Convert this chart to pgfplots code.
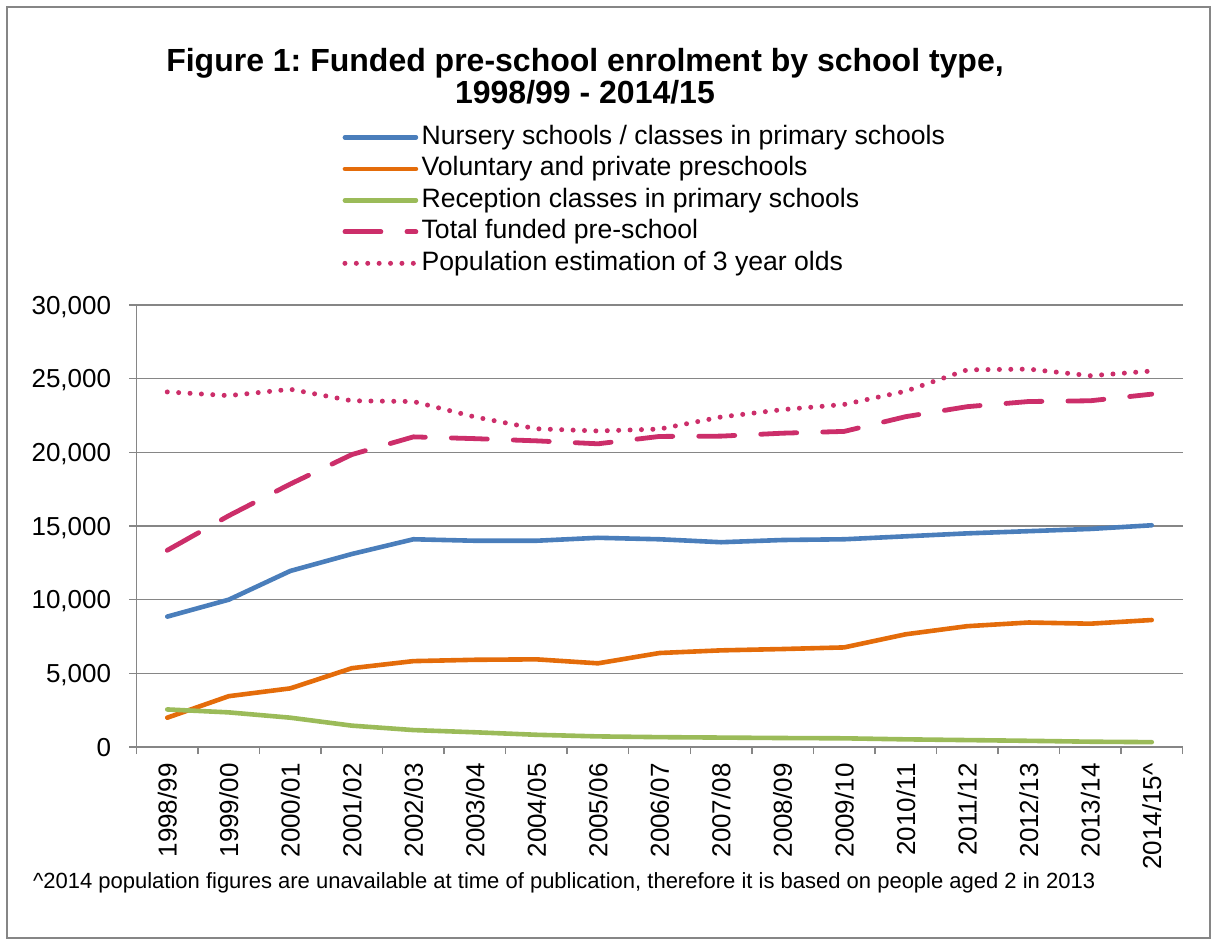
\documentclass[border=0pt]{standalone}
\usepackage{fontspec}
\setmainfont{Liberation Sans}
\usepackage{pgfplots}
\pgfplotsset{compat=1.18}
\frenchspacing

\definecolor{nursery}{RGB}{74,126,187}
\definecolor{voluntary}{RGB}{228,108,10}
\definecolor{reception}{RGB}{155,187,89}
\definecolor{total}{RGB}{204,46,106}
\definecolor{gridgray}{RGB}{134,134,134}

% index 0 = 1998/99 ... 16 = 2014/15
\pgfplotstableread{
x nursery voluntary reception total population
0  8850 1990 2550 13350 24100
1 10000 3450 2350 15700 23850
2 11950 3980 1990 17850 24280
3 13100 5350 1450 19850 23500
4 14100 5830 1150 21050 23450
5 14000 5920 1000 20930 22400
6 14000 5950  830 20780 21600
7 14200 5680  720 20580 21450
8 14100 6380  670 21080 21580
9 13900 6560  640 21100 22400
10 14050 6650 610 21300 22900
11 14100 6760 590 21420 23250
12 14300 7650 520 22420 24150
13 14500 8200 470 23100 25600
14 14650 8450 420 23450 25650
15 14800 8370 360 23500 25200
16 15050 8620 330 23950 25520
}\enrol

\begin{document}
\begin{tikzpicture}
\path[use as bounding box] (0,0) rectangle (606.5bp,-470.5bp);
\draw[gridgray, line width=1bp] (3.5bp,-3.5bp) rectangle (605bp,-469bp);

\node[anchor=base, font=\bfseries\fontsize{16bp}{18bp}\selectfont] at (292.5bp,-35.5bp)
  {Figure 1: Funded pre-school enrolment by school type,};
\node[anchor=base, font=\bfseries\fontsize{16bp}{18bp}\selectfont] at (292.5bp,-51.5bp)
  {1998/99 - 2014/15};

\begin{axis}[
    at={(68.25bp,-373.5bp)}, anchor=south west,
    width=523bp, height=221bp, scale only axis,
    xmin=-0.5, xmax=16.5, ymin=0, ymax=30000,
    axis x line*=bottom, axis y line*=left,
    axis line style={gridgray, line width=0.75bp},
    tick style={gridgray, line width=0.75bp},
    tick align=outside, major tick length=3.5bp,
    xtick={-0.5,0.5,...,16.5}, xticklabels={},
    extra x ticks={0,1,...,16},
    extra x tick labels={1998/99,1999/00,2000/01,2001/02,2002/03,2003/04,2004/05,2005/06,2006/07,2007/08,2008/09,2009/10,2010/11,2011/12,2012/13,2013/14,2014/15\textasciicircum},
    extra x tick style={major tick length=0pt},
    xticklabel style={yshift=-8bp, rotate=90, anchor=east, inner sep=0pt, text depth=0pt,
      font=\fontsize{13bp}{15bp}\selectfont},
    ytick={0,5000,...,30000},
    scaled y ticks=false,
    yticklabel style={inner sep=0pt, text depth=0pt, xshift=-9bp,
      font=\fontsize{13bp}{15bp}\selectfont},
    /pgf/number format/.cd, 1000 sep={,}, assume math mode=true, /pgfplots/.cd,
    ymajorgrids, grid style={gridgray, line width=0.75bp},
    legend cell align=left,
    legend style={at={(axis description cs:0.1965,1.409)}, anchor=north west,
      draw=none, fill=none, inner sep=0pt, row sep=3.05bp,
      font=\fontsize{13.3bp}{15bp}\selectfont,
      nodes={inner sep=0pt, text height=9.7bp, text depth=3bp},
      /tikz/every odd column/.append style={column sep=1.6bp}},
    legend image code/.code={\draw[#1] (0bp,0bp) -- (35.5bp,0bp);},
]
\addplot[nursery, line width=2.3bp, line join=round, line cap=round] table[x=x, y=nursery] {\enrol};
\addlegendentry{Nursery schools / classes in primary schools}
\addplot[voluntary, line width=2.3bp, line join=round, line cap=round] table[x=x, y=voluntary] {\enrol};
\addlegendentry{Voluntary and private preschools}
\addplot[reception, line width=2.3bp, line join=round, line cap=round] table[x=x, y=reception] {\enrol};
\addlegendentry{Reception classes in primary schools}
\addplot[total, line width=2.4bp, line join=round, line cap=round, dash pattern=on 18bp off 13bp] table[x=x, y=total] {\enrol};
\addlegendentry{Total funded pre-school}
\addplot[total, line width=2.5bp, line cap=round, dash pattern=on 0bp off 5.7bp] table[x=x, y=population] {\enrol};
\addlegendentry{Population estimation of 3 year olds}
\end{axis}

\node[anchor=base west, font=\fontsize{11bp}{13bp}\selectfont] at (13bp,-444bp)
  {\textasciicircum2014 population figures are unavailable at time of publication, therefore it is based on people aged 2 in 2013};
\end{tikzpicture}
\end{document}
